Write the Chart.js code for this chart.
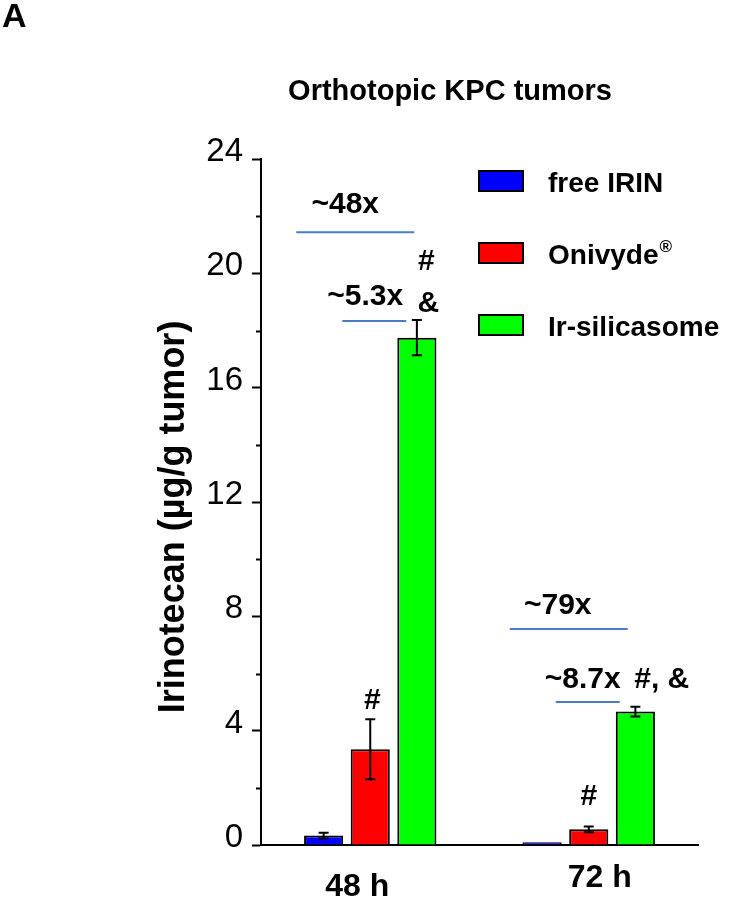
<!DOCTYPE html>
<html>
<head>
<meta charset="utf-8">
<script src="https://cdn.jsdelivr.net/npm/chart.js@4.4.1/dist/chart.umd.min.js"></script>
<style>
  body { margin: 0; background: #fff; }
  #wrap { width: 732px; height: 900px; position: relative; }
</style>
</head>
<body>
<div id="wrap"><canvas id="irinChart"></canvas></div>
<script>
// Data (µg irinotecan / g tumor)
const timePoints = ['48 h', '72 h'];
const seriesNames = ['free IRIN', 'Onivyde\u00AE', 'Ir-silicasome'];
const freeIrin = [0.33, 0.1];
const onivyde = [3.35, 0.55];
const silicasome = [17.75, 4.67];
const freeIrinSd = [0.1, 0.0];
const onivydeSd = [1.05, 0.1];
const silicasomeSd = [0.62, 0.17];
const yTicks = [0, 4, 8, 12, 16, 20, 24];

// fold-change / significance notes: [text, group, x offset px, y value]
const notes = [
    ['~48x', 0, -25, 22.39],
    ['~5.3x', 0, -5, 19.17],
    ['#', 0, 56, 20.4],
    ['&', 0, 58, 18.93],
    ['#', 0, 2, 5.04],
    ['~79x', 1, -31, 8.36],
    ['~8.7x', 1, -6, 5.77],
    ['#, &', 1, 73, 5.77],
    ['#', 1, 0, 1.68]
];
// bracket lines: [group, x start offset, x end offset, y value]
const brackets = [
    [0, -74, 44, 21.44],
    [0, -28, 36, 18.33],
    [1, -79, 39, 7.56],
    [1, -33, 31, 5.0]
];

const colors = ['#0000ff', '#ff0000', '#00ff00'];
const FONT = 'Arial, "Liberation Sans", Helvetica, sans-serif';

const extrasPlugin = {
    id: 'extras',
    afterDraw(chart) {
        const ctx = chart.ctx;
        const x = chart.scales.x;
        const y = chart.scales.y;
        ctx.save();

        // minor ticks on y axis
        ctx.strokeStyle = '#000';
        ctx.lineWidth = 2;
        for (let v = 2; v < 24; v += 4) {
            const py = Math.round(y.getPixelForValue(v)) + 0.5;
            ctx.beginPath();
            ctx.moveTo(chart.chartArea.left - 5, py);
            ctx.lineTo(chart.chartArea.left, py);
            ctx.stroke();
        }

        // error bars
        const sds = [freeIrinSd, onivydeSd, silicasomeSd];
        chart.data.datasets.forEach((ds, di) => {
            const meta = chart.getDatasetMeta(di);
            meta.data.forEach((bar, i) => {
                const sd = sds[di][i];
                if (!sd) return;
                const top = y.getPixelForValue(ds.data[i] + sd);
                const bot = y.getPixelForValue(ds.data[i] - sd);
                ctx.beginPath();
                ctx.moveTo(bar.x, top); ctx.lineTo(bar.x, bot);
                ctx.moveTo(bar.x - 5, top); ctx.lineTo(bar.x + 5, top);
                ctx.moveTo(bar.x - 5, bot); ctx.lineTo(bar.x + 5, bot);
                ctx.stroke();
            });
        });

        // bracket lines
        ctx.strokeStyle = '#4a7cc4';
        ctx.lineWidth = 2;
        brackets.forEach(b => {
            const cx = x.getPixelForValue(b[0]);
            const py = y.getPixelForValue(b[3]);
            ctx.beginPath();
            ctx.moveTo(cx + b[1], py);
            ctx.lineTo(cx + b[2], py);
            ctx.stroke();
        });

        // notes
        ctx.fillStyle = '#000';
        ctx.textAlign = 'center';
        ctx.textBaseline = 'middle';
        ctx.font = 'bold 30px ' + FONT;
        notes.forEach(n => {
            ctx.fillText(n[0], x.getPixelForValue(n[1]) + n[2], y.getPixelForValue(n[3]));
        });

        // category labels
        ctx.font = 'bold 32px ' + FONT;
        ctx.fillText(timePoints[0], x.getPixelForValue(0) - 13, 887);
        ctx.fillText(timePoints[1], x.getPixelForValue(1) + 11, 878);

        // legend
        ctx.textAlign = 'left';
        ctx.font = 'bold 28px ' + FONT;
        const legY = [181, 253, 325];
        seriesNames.forEach((name, i) => {
            ctx.fillStyle = colors[i];
            ctx.fillRect(479, legY[i] - 10, 44, 20);
            ctx.strokeStyle = '#000';
            ctx.lineWidth = 2;
            ctx.strokeRect(479, legY[i] - 10, 44, 20);
            ctx.fillStyle = '#000';
            if (i === 1) {
                ctx.fillText('Onivyde', 548, legY[i] + 3);
                const w = ctx.measureText('Onivyde').width;
                ctx.font = 'bold 17px ' + FONT;
                ctx.fillText('\u00AE', 548 + w + 1, legY[i] - 6);
                ctx.font = 'bold 28px ' + FONT;
            } else {
                ctx.fillText(name, 548, legY[i] + 3);
            }
        });

        // title, panel letter, y title
        ctx.textAlign = 'center';
        ctx.font = 'bold 29px ' + FONT;
        ctx.fillText('Orthotopic KPC tumors', 450, 92);
        ctx.textAlign = 'left';
        ctx.font = 'bold 34px ' + FONT;
        ctx.fillText('A', 2, 18);

        ctx.translate(174, 517);
        ctx.rotate(-Math.PI / 2);
        ctx.textAlign = 'center';
        ctx.font = 'bold 36px ' + FONT;
        ctx.fillText('Irinotecan (\u00B5g/g tumor)', 0, 0);
        ctx.restore();
    }
};

const ctx = document.getElementById('irinChart').getContext('2d');
const irinChart = new Chart(ctx, {
    type: 'bar',
    data: {
        labels: timePoints,
        datasets: [
            { label: seriesNames[0], data: freeIrin, backgroundColor: colors[0] },
            { label: seriesNames[1], data: onivyde, backgroundColor: colors[1] },
            { label: seriesNames[2], data: silicasome, backgroundColor: colors[2] }
        ]
    },
    options: {
        responsive: true,
        maintainAspectRatio: false,
        animation: false,
        layout: { padding: { top: 159, right: 34, left: 0, bottom: 0 } },
        datasets: {
            bar: {
                borderColor: '#000',
                borderWidth: 2,
                categoryPercentage: 0.64,
                barPercentage: 0.84
            }
        },
        plugins: {
            legend: { display: false },
            tooltip: { enabled: false }
        },
        scales: {
            x: {
                grid: { display: false },
                border: { display: true, color: '#000', width: 2 },
                ticks: { display: false },
                afterFit(scale) { scale.height = 55; }
            },
            y: {
                min: 0,
                max: 24,
                afterBuildTicks(scale) {
                    scale.ticks = [];
                    for (let v = 0; v <= 24; v += 4) scale.ticks.push({ value: v });
                },
                ticks: {
                    color: '#000',
                    padding: 9,
                    labelOffset: -7,
                    font: { family: FONT, size: 33 },
                    callback: v => yTicks.includes(v) ? String(v) : ''
                },
                grid: {
                    drawOnChartArea: false,
                    drawTicks: true,
                    tickLength: 9,
                    tickColor: '#000',
                    tickWidth: 2
                },
                border: { display: true, color: '#000', width: 2 },
                afterFit(scale) { scale.width = 261; }
            }
        }
    },
    plugins: [extrasPlugin]
});
</script>
</body>
</html>
